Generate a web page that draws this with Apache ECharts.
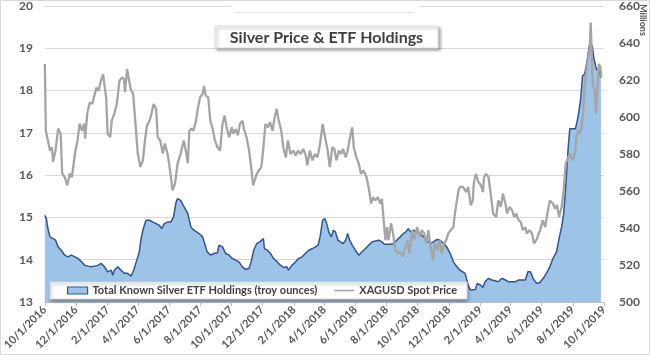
<!DOCTYPE html>
<html><head><meta charset="utf-8">
<script src="https://cdn.jsdelivr.net/npm/echarts@6/dist/echarts.min.js"></script>
<style>html,body{margin:0;padding:0;background:#fff}#c{width:650px;height:355px}</style>
</head><body><div id="c"></div>
<script>
const tickDates = ['2016-10-01','2016-12-01','2017-02-01','2017-04-01','2017-06-01','2017-08-01','2017-10-01','2017-12-01','2018-02-01','2018-04-01','2018-06-01','2018-08-01','2018-10-01','2018-12-01','2019-02-01','2019-04-01','2019-06-01','2019-08-01','2019-10-01'];

const silverDates = ['2016-10-01','2016-10-03','2016-10-07','2016-10-11','2016-10-15','2016-10-17','2016-10-22','2016-10-27','2016-11-01','2016-11-04','2016-11-09','2016-11-14','2016-11-19','2016-11-23','2016-11-29','2016-12-04','2016-12-08','2016-12-13','2016-12-17','2016-12-19','2016-12-23','2016-12-28','2017-01-02','2017-01-06','2017-01-10','2017-01-14','2017-01-18','2017-01-23','2017-01-26','2017-01-29','2017-02-01','2017-02-06','2017-02-09','2017-02-14','2017-02-19','2017-02-24','2017-03-01','2017-03-05','2017-03-07','2017-03-11','2017-03-14','2017-03-18','2017-03-23','2017-03-27','2017-04-01','2017-04-06','2017-04-11','2017-04-15','2017-04-19','2017-04-24','2017-04-27','2017-05-02','2017-05-07','2017-05-10','2017-05-15','2017-05-20','2017-05-24','2017-05-30','2017-06-04','2017-06-08','2017-06-13','2017-06-18','2017-06-24','2017-06-30','2017-07-04','2017-07-08','2017-07-11','2017-07-15','2017-07-19','2017-07-24','2017-07-28','2017-08-01','2017-08-06','2017-08-09','2017-08-12','2017-08-17','2017-08-21','2017-08-25','2017-08-30','2017-09-04','2017-09-09','2017-09-14','2017-09-18','2017-09-22','2017-09-27','2017-10-02','2017-10-05','2017-10-10','2017-10-14','2017-10-18','2017-10-23','2017-10-26','2017-10-31','2017-11-05','2017-11-09','2017-11-13','2017-11-16','2017-11-20','2017-11-24','2017-11-29','2017-12-03','2017-12-07','2017-12-12','2017-12-16','2017-12-21','2017-12-25','2017-12-29','2018-01-02','2018-01-07','2018-01-11','2018-01-16','2018-01-20','2018-01-25','2018-01-31','2018-02-04','2018-02-09','2018-02-14','2018-02-19','2018-02-24','2018-02-27','2018-03-04','2018-03-09','2018-03-14','2018-03-19','2018-03-24','2018-03-29','2018-03-31','2018-04-04','2018-04-08','2018-04-12','2018-04-17','2018-04-21','2018-04-25','2018-04-30','2018-05-04','2018-05-08','2018-05-13','2018-05-17','2018-05-23','2018-05-26','2018-05-29','2018-06-03','2018-06-08','2018-06-12','2018-06-17','2018-06-23','2018-06-27','2018-07-02','2018-07-06','2018-07-10','2018-07-15','2018-07-20','2018-07-23','2018-07-26','2018-07-30','2018-08-02','2018-08-05','2018-08-10','2018-08-14','2018-08-18','2018-08-23','2018-08-28','2018-09-02','2018-09-07','2018-09-11','2018-09-15','2018-09-20','2018-09-24','2018-09-30','2018-10-05','2018-10-09','2018-10-14','2018-10-18','2018-10-22','2018-10-27','2018-10-31','2018-11-04','2018-11-09','2018-11-13','2018-11-17','2018-11-22','2018-11-26','2018-11-30','2018-12-05','2018-12-10','2018-12-13','2018-12-17','2018-12-20','2018-12-23','2018-12-29','2019-01-04','2019-01-08','2019-01-13','2019-01-17','2019-01-19','2019-01-23','2019-01-28','2019-02-02','2019-02-06','2019-02-08','2019-02-12','2019-02-17','2019-02-21','2019-02-26','2019-03-04','2019-03-08','2019-03-13','2019-03-17','2019-03-22','2019-03-25','2019-03-30','2019-04-04','2019-04-08','2019-04-12','2019-04-17','2019-04-21','2019-04-25','2019-04-30','2019-05-03','2019-05-08','2019-05-13','2019-05-17','2019-05-23','2019-05-26','2019-05-29','2019-06-03','2019-06-08','2019-06-12','2019-06-17','2019-06-23','2019-06-27','2019-07-01','2019-07-05','2019-07-10','2019-07-14','2019-07-18','2019-07-23','2019-07-27','2019-07-31','2019-08-05','2019-08-08','2019-08-11','2019-08-15','2019-08-18','2019-08-21','2019-08-24','2019-08-28','2019-08-31','2019-09-03','2019-09-05','2019-09-07','2019-09-09','2019-09-13','2019-09-15','2019-09-17','2019-09-21','2019-09-24','2019-09-26'];
const silverPrice = [18.63,17.05,16.82,16.58,16.66,16.31,16.58,17.10,16.98,16.04,15.95,15.76,16.04,15.95,16.51,16.82,17.22,17.05,17.22,16.87,17.45,17.72,17.69,17.88,18.07,17.99,18.19,18.39,18.43,17.84,16.98,16.90,17.29,17.45,17.69,18.23,18.31,18.27,17.96,18.51,18.55,18.04,17.92,17.29,16.51,16.19,16.35,16.82,17.17,17.29,17.41,17.68,17.57,16.90,16.82,16.51,16.75,16.46,16.04,15.64,15.80,16.28,16.51,16.82,16.58,16.28,17.05,17.10,17.05,17.29,17.60,17.84,17.92,18.11,17.88,17.84,17.29,17.13,16.82,16.66,16.58,17.21,17.41,17.13,16.90,17.13,16.98,17.09,16.94,17.21,17.29,17.09,16.90,16.58,16.19,15.76,15.72,16.03,16.11,16.19,16.66,17.21,17.13,17.25,17.05,17.37,17.57,17.29,17.05,16.66,16.42,16.82,16.50,16.58,16.46,16.58,16.50,16.62,16.46,16.23,16.58,16.35,16.50,16.42,16.74,17.21,17.21,16.82,16.58,16.19,16.66,16.62,16.35,16.58,16.50,16.62,16.42,16.58,16.98,17.13,16.66,16.42,16.27,16.03,16.11,15.95,15.72,15.33,15.48,15.40,15.48,15.33,15.44,15.01,14.46,14.77,14.46,14.86,14.62,14.23,14.15,14.19,14.07,14.30,14.46,14.15,14.70,14.46,14.77,14.54,14.70,14.62,14.38,14.70,14.27,13.99,14.38,14.23,14.46,14.15,14.38,14.46,14.62,14.70,14.77,15.09,15.40,15.64,15.72,15.72,15.60,15.72,15.29,15.40,15.80,16.03,15.84,15.76,15.60,15.95,16.03,15.95,15.56,15.09,15.01,15.40,15.25,15.56,15.33,15.09,15.25,15.17,15.01,15.09,14.93,14.89,14.70,14.77,14.62,14.70,14.62,14.38,14.50,14.62,14.70,14.93,14.77,15.09,15.40,15.33,15.21,15.29,15.01,15.25,15.64,16.27,16.42,16.50,16.35,16.50,16.90,17.05,16.98,17.13,17.45,18.07,18.55,18.78,19.02,19.61,18.86,18.15,18.00,17.45,17.84,18.63,18.55,18.31];

const etfDates = ['2016-10-01','2016-10-04','2016-10-07','2016-10-11','2016-10-17','2016-10-22','2016-10-27','2016-11-02','2016-11-09','2016-11-15','2016-11-22','2016-11-29','2016-12-05','2016-12-12','2016-12-18','2016-12-25','2016-12-31','2017-01-06','2017-01-13','2017-01-19','2017-01-26','2017-02-01','2017-02-08','2017-02-11','2017-02-14','2017-02-21','2017-02-27','2017-03-06','2017-03-12','2017-03-19','2017-03-24','2017-03-29','2017-04-04','2017-04-07','2017-04-11','2017-04-17','2017-04-24','2017-04-30','2017-05-07','2017-05-13','2017-05-18','2017-05-23','2017-05-30','2017-06-05','2017-06-10','2017-06-15','2017-06-18','2017-06-24','2017-07-01','2017-07-08','2017-07-14','2017-07-20','2017-07-30','2017-08-06','2017-08-10','2017-08-15','2017-08-22','2017-08-28','2017-09-04','2017-09-07','2017-09-14','2017-09-20','2017-09-27','2017-10-03','2017-10-10','2017-10-16','2017-10-23','2017-10-29','2017-11-05','2017-11-09','2017-11-14','2017-11-20','2017-11-26','2017-12-03','2017-12-05','2017-12-11','2017-12-17','2017-12-23','2017-12-30','2018-01-05','2018-01-12','2018-01-18','2018-01-21','2018-01-28','2018-02-04','2018-02-10','2018-02-17','2018-02-23','2018-03-02','2018-03-09','2018-03-15','2018-03-20','2018-03-24','2018-03-29','2018-04-02','2018-04-06','2018-04-10','2018-04-15','2018-04-19','2018-04-23','2018-04-28','2018-05-03','2018-05-08','2018-05-13','2018-05-17','2018-05-21','2018-05-26','2018-06-01','2018-06-08','2018-06-14','2018-06-21','2018-06-27','2018-07-04','2018-07-10','2018-07-17','2018-07-23','2018-07-28','2018-08-08','2018-08-15','2018-08-21','2018-08-28','2018-09-03','2018-09-08','2018-09-13','2018-09-17','2018-09-23','2018-09-30','2018-10-06','2018-10-13','2018-10-19','2018-10-26','2018-11-01','2018-11-08','2018-11-14','2018-11-21','2018-11-27','2018-12-04','2018-12-10','2018-12-17','2018-12-23','2019-01-02','2019-01-09','2019-01-13','2019-01-22','2019-01-26','2019-02-01','2019-02-06','2019-02-10','2019-02-17','2019-02-23','2019-03-02','2019-03-08','2019-03-15','2019-03-22','2019-03-28','2019-04-04','2019-04-10','2019-04-17','2019-04-23','2019-04-30','2019-05-05','2019-05-10','2019-05-15','2019-05-22','2019-05-28','2019-06-04','2019-06-10','2019-06-17','2019-06-23','2019-06-30','2019-07-05','2019-07-10','2019-07-14','2019-07-18','2019-07-23','2019-07-26','2019-08-06','2019-08-11','2019-08-16','2019-08-20','2019-08-24','2019-08-29','2019-09-02','2019-09-08','2019-09-11','2019-09-16','2019-09-21','2019-09-25'];
const etfHoldings = [546.9,545.1,539.7,535.2,534.3,533.4,529.8,528.0,525.3,524.4,525.3,524.4,523.5,521.7,519.9,519.4,519.0,519.4,519.8,520.9,519.0,516.3,517.2,514.5,517.2,519.0,517.2,515.5,515.5,514.0,517.2,521.7,527.1,533.4,538.8,544.2,544.2,543.3,542.4,541.5,539.7,542.4,543.3,543.3,546.0,554.0,555.9,554.9,551.3,547.8,540.6,538.8,537.0,535.2,531.6,527.1,525.3,526.2,526.6,530.7,529.8,526.2,525.3,523.5,522.6,521.7,519.0,517.6,518.2,521.7,528.0,531.6,532.5,534.3,528.9,528.0,526.2,523.5,521.7,519.9,518.7,519.0,517.2,519.9,521.7,523.5,524.4,526.2,528.0,528.9,529.8,530.7,535.2,544.2,545.1,542.4,537.9,535.2,538.8,537.9,533.4,532.5,531.6,533.4,537.0,533.4,530.7,528.0,525.3,527.1,528.9,530.7,532.5,533.0,533.4,532.5,531.2,531.2,531.6,533.4,535.2,537.0,537.9,539.7,537.9,538.8,537.9,537.0,535.2,533.4,531.6,532.5,533.8,533.4,531.6,529.8,526.2,521.7,519.0,517.2,515.5,508.2,506.5,506.8,510.1,509.2,507.9,510.9,512.8,511.9,511.5,510.9,512.8,511.9,510.9,510.9,510.9,511.9,511.9,511.9,516.3,516.3,512.8,510.1,510.4,512.8,515.5,519.0,523.5,527.1,534.3,540.6,547.8,562.1,583.7,593.6,593.6,599.8,608.8,622.3,623.2,630.4,638.5,638.5,632.1,625.9,625.0,621.4];

const ETF_NAME = 'Total Known Silver ETF Holdings (troy ounces)';
const SILVER_NAME = 'XAGUSD Spot Price';

function toTime(s){ const p = s.split('-'); return new Date(+p[0], +p[1]-1, +p[2]).getTime(); }
const ticks = tickDates.map(toTime);
const silverData = silverDates.map((d,i)=>[toTime(d), silverPrice[i]]);
const etfData = etfDates.map((d,i)=>[toTime(d), etfHoldings[i]]);

const FONT = 'Lato, "Open Sans", sans-serif';
const chart = echarts.init(document.getElementById('c'), null, {renderer:'canvas'});
chart.setOption({
  animation: false,
  backgroundColor: '#fff',
  textStyle: { fontFamily: FONT },
  grid: { left: 43, right: 46, top: 5, bottom: 53, containLabel: false },
  legend: {
    left: 50, top: 282,
    padding: [3, 10, 3, 17],
    itemGap: 17, itemWidth: 20, itemHeight: 7,
    backgroundColor: '#fff', borderColor: '#D9D9D9', borderWidth: 1,
    shadowBlur: 3, shadowColor: 'rgba(0,0,0,0.35)', shadowOffsetX: 1, shadowOffsetY: 2,
    textStyle: { fontFamily: FONT, fontSize: 11, fontWeight: 'bold', color: '#404040', padding: [1,0,0,0] },
    data: [
      { name: ETF_NAME, icon: 'rect', itemStyle: { color: '#9DC3E6', borderColor: '#2F5597', borderWidth: 1.2 } },
      { name: SILVER_NAME, icon: 'path://M0,0 L20,0 L20,1.6 L0,1.6 Z', itemStyle: { color: '#A5A5A5', borderWidth: 0 } }
    ]
  },
  xAxis: {
    type: 'value',
    min: ticks[0], max: ticks[ticks.length-1],
    axisLine: { show: true, lineStyle: { color: '#BFBFBF', width: 1 } },
    axisTick: { show: true, customValues: ticks, length: 4, lineStyle: { color: '#BFBFBF' } },
    splitLine: { show: false },
    axisLabel: {
      customValues: ticks, rotate: 45, margin: 6,
      fontFamily: FONT, fontSize: 11, fontWeight: 'bold', color: '#595959',
      hideOverlap: false, showMinLabel: true, showMaxLabel: true,
      formatter: function (v) { const d = new Date(v); return (d.getMonth()+1) + '/' + d.getDate() + '/' + d.getFullYear(); }
    }
  },
  yAxis: [
    { type: 'value', position: 'left', min: 13, max: 20, interval: 1,
      axisLine: { show: false }, axisTick: { show: false },
      splitLine: { show: true, lineStyle: { color: '#D9D9D9', width: 1 } },
      axisLabel: { fontFamily: FONT, fontSize: 12, fontWeight: 'bold', color: '#595959', margin: 12 } },
    { type: 'value', position: 'right', min: 500, max: 660, interval: 20,
      axisLine: { show: false }, axisTick: { show: false }, splitLine: { show: false },
      axisLabel: { fontFamily: FONT, fontSize: 12, fontWeight: 'bold', color: '#595959', margin: 15 } }
  ],
  series: [
    { name: ETF_NAME, type: 'line', yAxisIndex: 1, data: etfData,
      symbol: 'none', z: 2,
      lineStyle: { color: '#2F5597', width: 1.5 },
      itemStyle: { color: '#9DC3E6' },
      areaStyle: { color: '#9DC3E6', opacity: 1, origin: 'start' } },
    { name: SILVER_NAME, type: 'line', yAxisIndex: 0, data: silverData,
      symbol: 'none', z: 3,
      lineStyle: { color: '#A5A5A5', width: 2.3 },
      itemStyle: { color: '#A5A5A5' } }
  ],
  graphic: [
    { type: 'rect', silent: true, z: 100, shape: { x: 0.5, y: 0.5, width: 649, height: 354 },
      style: { fill: 'none', stroke: '#D9D9D9', lineWidth: 1 } },
    { type: 'rect', silent: true, z: 100, shape: { x: 231, y: 3, width: 188, height: 4 },
      style: { fill: '#fff' } },
    { type: 'line', silent: true, z: 100, shape: { x1: 236, y1: 12.5, x2: 414, y2: 12.5 },
      style: { stroke: '#E3E3E3', lineWidth: 1 } },
    { type: 'rect', silent: true, z: 100, shape: { x: 215, y: 26, width: 223, height: 22 },
      style: { fill: '#fff', stroke: '#E0E0E0', lineWidth: 1, shadowBlur: 3, shadowOffsetX: 2, shadowOffsetY: 2, shadowColor: 'rgba(0,0,0,0.35)' } },
    { type: 'text', silent: true, z: 101, x: 326.5, y: 38,
      style: { text: 'Silver Price & ETF Holdings', fill: '#404040', font: 'bold 16px ' + FONT, textAlign: 'center', textVerticalAlign: 'middle' } },
    { type: 'text', silent: true, z: 101, x: 643, y: 20, rotation: -Math.PI/2,
      style: { text: 'Millions', fill: '#595959', font: 'bold 9px ' + FONT, textAlign: 'center', textVerticalAlign: 'middle' } }
  ]
});
</script></body></html>
